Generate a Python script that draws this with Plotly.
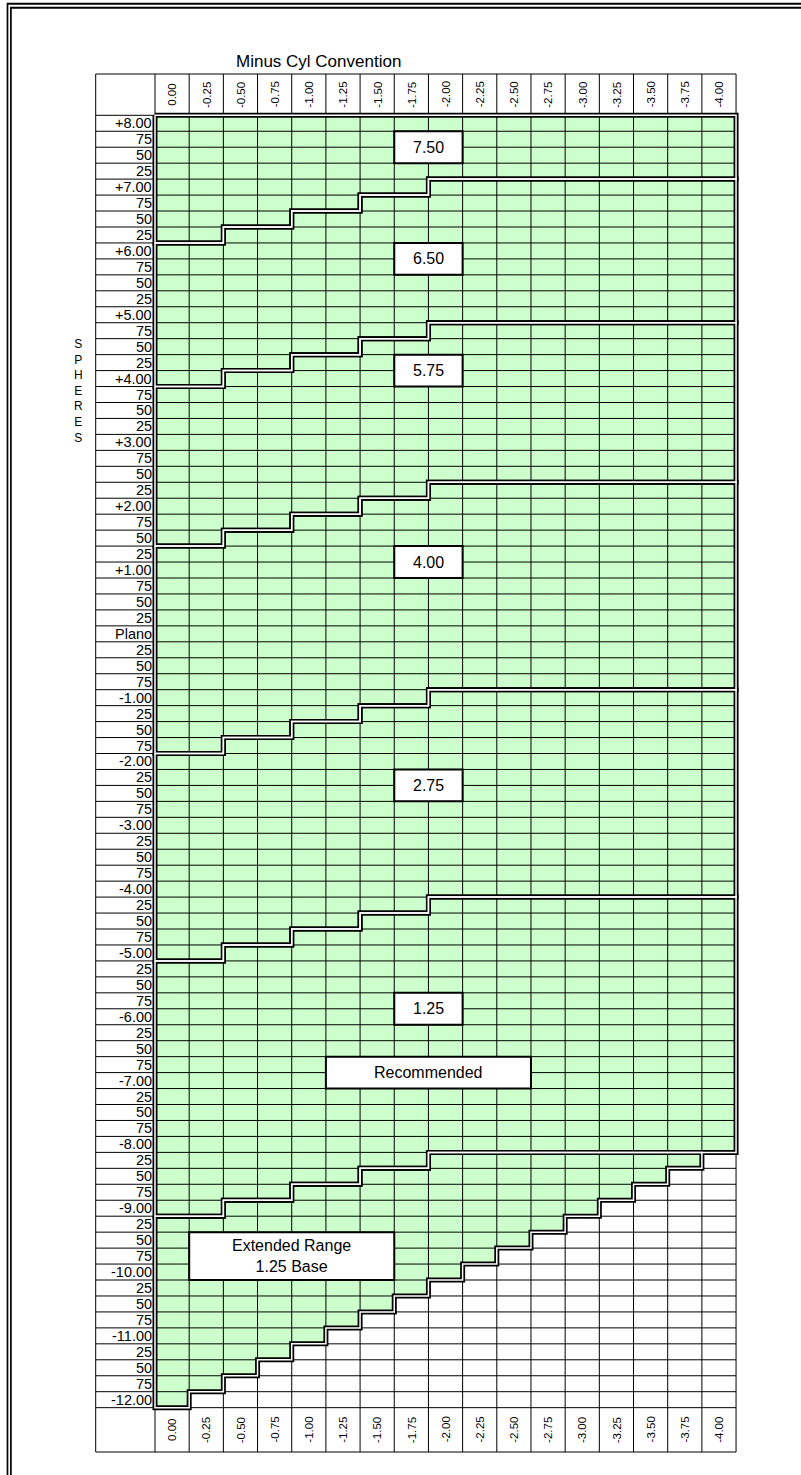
import plotly.graph_objects as go

# ---------------- data ----------------
cyl_labels = ["0.00", "-0.25", "-0.50", "-0.75", "-1.00", "-1.25", "-1.50", "-1.75", "-2.00",
              "-2.25", "-2.50", "-2.75", "-3.00", "-3.25", "-3.50", "-3.75", "-4.00"]

sphere_labels = ["+8.00", "75", "50", "25", "+7.00", "75", "50", "25", "+6.00", "75", "50", "25",
                 "+5.00", "75", "50", "25", "+4.00", "75", "50", "25", "+3.00", "75", "50", "25",
                 "+2.00", "75", "50", "25", "+1.00", "75", "50", "25", "Plano",
                 "25", "50", "75", "-1.00", "25", "50", "75", "-2.00", "25", "50", "75", "-3.00",
                 "25", "50", "75", "-4.00", "25", "50", "75", "-5.00", "25", "50", "75", "-6.00",
                 "25", "50", "75", "-7.00", "25", "50", "75", "-8.00", "25", "50", "75", "-9.00",
                 "25", "50", "75", "-10.00", "25", "50", "75", "-11.00", "25", "50", "75", "-12.00"]

sphere_values = [8.00, 7.75, 7.50, 7.25, 7.00, 6.75, 6.50, 6.25, 6.00, 5.75, 5.50, 5.25,
                 5.00, 4.75, 4.50, 4.25, 4.00, 3.75, 3.50, 3.25, 3.00, 2.75, 2.50, 2.25,
                 2.00, 1.75, 1.50, 1.25, 1.00, 0.75, 0.50, 0.25, 0.00,
                 -0.25, -0.50, -0.75, -1.00, -1.25, -1.50, -1.75, -2.00, -2.25, -2.50, -2.75, -3.00,
                 -3.25, -3.50, -3.75, -4.00, -4.25, -4.50, -4.75, -5.00, -5.25, -5.50, -5.75, -6.00,
                 -6.25, -6.50, -6.75, -7.00, -7.25, -7.50, -7.75, -8.00, -8.25, -8.50, -8.75, -9.00,
                 -9.25, -9.50, -9.75, -10.00, -10.25, -10.50, -10.75, -11.00, -11.25, -11.50, -11.75, -12.00]

base_curves = ["7.50", "6.50", "5.75", "4.00", "2.75", "1.25"]

# lowest sphere of each base-curve zone, per cylinder column
lowest_750 = [6.25, 6.25, 6.50, 6.50, 6.75, 6.75, 7.00, 7.00, 7.25, 7.25, 7.25, 7.25, 7.25, 7.25, 7.25, 7.25, 7.25]
lowest_650 = [4.00, 4.00, 4.25, 4.25, 4.50, 4.50, 4.75, 4.75, 5.00, 5.00, 5.00, 5.00, 5.00, 5.00, 5.00, 5.00, 5.00]
lowest_575 = [1.50, 1.50, 1.75, 1.75, 2.00, 2.00, 2.25, 2.25, 2.50, 2.50, 2.50, 2.50, 2.50, 2.50, 2.50, 2.50, 2.50]
lowest_400 = [-1.75, -1.75, -1.50, -1.50, -1.25, -1.25, -1.00, -1.00, -0.75, -0.75, -0.75, -0.75, -0.75, -0.75, -0.75, -0.75, -0.75]
lowest_275 = [-5.00, -5.00, -4.75, -4.75, -4.50, -4.50, -4.25, -4.25, -4.00, -4.00, -4.00, -4.00, -4.00, -4.00, -4.00, -4.00, -4.00]
lowest_125 = [-9.00, -9.00, -8.75, -8.75, -8.50, -8.50, -8.25, -8.25, -8.00, -8.00, -8.00, -8.00, -8.00, -8.00, -8.00, -8.00, -8.00]
extended_lowest = [-12.00, -11.75, -11.50, -11.25, -11.00, -10.75, -10.50, -10.25, -10.00,
                   -9.75, -9.50, -9.25, -9.00, -8.75, -8.50, -8.25, -8.00]

zone_lowest = [lowest_750, lowest_650, lowest_575, lowest_400, lowest_275, lowest_125]

title_text = "Minus Cyl Convention"
side_text = "SPHERES"
recommended_text = "Recommended"
extended_text = "Extended Range<br>1.25 Base"

# ---------------- layout (pixel geometry of the sheet) ----------------
W, H = 801, 1475
X0, CW = 155.0, 34.18      # left edge of first cyl column, column width (px)
Y0, RH = 115.3, 15.955     # top edge of first sphere row, row height (px)
LABEL_W = 59.3             # sphere label column width (px)
HEAD_TOP = 74.0
FOOT_BOT = 1452.0

ncol = len(cyl_labels)
nrow = len(sphere_labels)

def ux(px):
    return (px - X0) / CW

def uy(py):
    return (py - Y0) / RH

x_lab = ux(X0 - LABEL_W)
y_head = uy(HEAD_TOP)
y_foot = uy(FOOT_BOT)

GREEN = "#CCFFCC"
FONT = "Liberation Sans, Arial, sans-serif"


def row_of(s):
    return sphere_values.index(s)


fig = go.Figure()

# ---- cell fill (heatmap) ----
zone_bottoms = []
prev = [0] * ncol
zone_tops = []
for low in zone_lowest:
    zone_tops.append(prev)
    bot = [row_of(s) + 1 for s in low]
    zone_bottoms.append(bot)
    prev = bot
ext_top = prev
ext_bot = [row_of(s) + 1 for s in extended_lowest]

z = []
for r in range(nrow):
    z.append([1 if r < max(ext_bot[c], ext_top[c]) else 0 for c in range(ncol)])

fig.add_trace(go.Heatmap(
    z=z, x=[c + 0.5 for c in range(ncol)], y=[r + 0.5 for r in range(nrow)],
    colorscale=[[0, "white"], [1, GREEN]], zmin=0, zmax=1, showscale=False,
    hoverinfo="skip"))

# ---- grid lines ----
gx, gy = [], []
v_positions = [x_lab] + list(range(ncol + 1))
for xv in v_positions:
    gx += [xv, xv, None]
    gy += [y_head, y_foot, None]
h_positions = [y_head] + list(range(nrow + 1)) + [y_foot]
for yv in h_positions:
    gx += [x_lab, ncol, None]
    gy += [yv, yv, None]
fig.add_trace(go.Scatter(x=gx, y=gy, mode="lines", line=dict(color="black", width=1),
                         hoverinfo="skip"))


# ---- zone outlines (double lines) ----
def outline(top, bot):
    cols = [c for c in range(ncol) if bot[c] > top[c]]
    xs, ys = [], []
    for c in cols:
        xs += [c, c + 1]
        ys += [top[c], top[c]]
    for c in reversed(cols):
        xs += [c + 1, c]
        ys += [bot[c], bot[c]]
    xs.append(xs[0])
    ys.append(ys[0])
    return xs, ys


ox, oy = [], []
for t, b in list(zip(zone_tops, zone_bottoms)) + [(ext_top, ext_bot)]:
    xs, ys = outline(t, b)
    ox += xs + [None]
    oy += ys + [None]
fig.add_trace(go.Scatter(x=ox, y=oy, mode="lines",
                         line=dict(color="black", width=5), hoverinfo="skip"))
fig.add_trace(go.Scatter(x=ox, y=oy, mode="lines",
                         line=dict(color="white", width=1.5), hoverinfo="skip"))

annotations = []
shapes = []

# ---- sphere labels ----
for r, lab in enumerate(sphere_labels):
    annotations.append(dict(x=ux(X0 - 1.2), y=r + 0.5, text=lab, showarrow=False,
                            xanchor="right", yanchor="middle",
                            font=dict(family=FONT, size=14.5, color="black")))

# ---- cylinder labels (top and bottom header) ----
for c, lab in enumerate(cyl_labels):
    for yc in ((y_head + 0) / 2, (nrow + y_foot) / 2):
        annotations.append(dict(x=c + 0.5, y=yc, text=lab, showarrow=False, textangle=-90,
                                xanchor="center", yanchor="middle",
                                font=dict(family=FONT, size=11.5, color="black")))

# ---- boxed labels ----
box_col = [7, 7, 7, 7, 7, 7]
box_row = [1, 8, 15, 27, 41, 55]
boxes = [(bc_, box_col[i], box_row[i], 2, 2) for i, bc_ in enumerate(base_curves)]
boxes.append((recommended_text, 5, 59, 6, 2))
boxes.append((extended_text, 1, 70, 6, 3))
for text, c0, r0, wc, hr in boxes:
    shapes.append(dict(type="rect", xref="x", yref="y", x0=c0, x1=c0 + wc, y0=r0, y1=r0 + hr,
                       fillcolor="white", line=dict(color="black", width=2), layer="above"))
    annotations.append(dict(x=c0 + wc / 2, y=r0 + hr / 2, text=text, showarrow=False,
                            xanchor="center", yanchor="middle",
                            font=dict(family=FONT, size=16, color="black")))

# ---- title and side label ----
annotations.append(dict(x=ux(318), y=uy(61), text=title_text, showarrow=False,
                        xanchor="center", yanchor="middle",
                        font=dict(family=FONT, size=17, color="black")))
annotations.append(dict(x=ux(78), y=uy(391), text="<br>".join(side_text), showarrow=False,
                        xanchor="center", yanchor="middle",
                        font=dict(family=FONT, size=12, color="black")))

# ---- outer page frame (double line) ----
def pxp(px):
    return px / W

def pyp(py):
    return 1 - py / H

frame = [
    (7.5, 3.0, 7.5, H + 5, 1.7),
    (10.9, 7.8, 10.9, H + 5, 1.7),
    (7.0, 3.7, W + 5, 3.7, 2.0),
    (10.0, 7.7, W + 5, 7.7, 2.0),
]
for x0p, y0p, x1p, y1p, w in frame:
    shapes.append(dict(type="line", xref="paper", yref="paper",
                       x0=pxp(x0p), y0=pyp(y0p), x1=pxp(x1p), y1=pyp(y1p),
                       line=dict(color="black", width=w)))

fig.update_layout(
    width=W, height=H,
    margin=dict(l=0, r=0, t=0, b=0),
    paper_bgcolor="white", plot_bgcolor="white",
    showlegend=False, hovermode=False,
    xaxis=dict(range=[ux(0), ux(W)], visible=False, fixedrange=True),
    yaxis=dict(range=[uy(H), uy(0)], visible=False, fixedrange=True),
    annotations=annotations, shapes=shapes,
)

fig.write_html("out.html", config={"displayModeBar": False},
               post_script="document.body.style.margin='0px';")
